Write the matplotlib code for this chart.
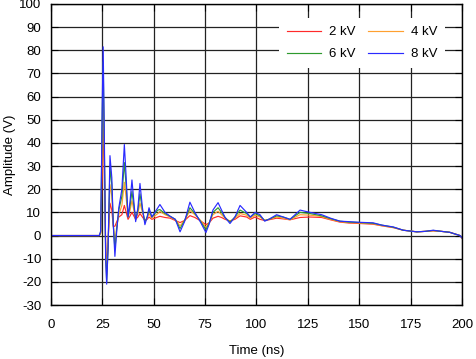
import numpy as np
import matplotlib
matplotlib.use("Agg")
import matplotlib.pyplot as plt

plt.rcParams['font.family'] = ['Liberation Sans', 'DejaVu Sans']
plt.rcParams['axes.unicode_minus'] = False

# time axis (ns) shared by the four waveforms
t = [0, 23.5, 24.2, 25.0, 25.4, 26.0, 26.6, 27.1, 27.8, 28.7, 29.6, 30.3, 31.1, 32.0, 33.0,
     34.5, 35.7, 36.6, 37.5, 38.5, 39.4, 40.3, 41.2, 42.3, 43.3, 44.5, 45.7, 46.8, 47.7,
     49.1, 50.5, 52.0, 53.0, 55.5, 58.0, 60.5, 62.8, 65.0, 67.6, 70.0, 72.5, 75.4, 77.0,
     78.8, 81.3, 83.0, 84.7, 87.1, 89.5, 92.0, 95.2, 97.0, 99.3, 101.7, 104.0, 106.0,
     109.8, 113.0, 116.3, 121.2, 126.0, 131.7, 136.0, 140.6, 145.0, 150.4, 156.7, 161.0,
     166.6, 171.4, 178.0, 182.0, 186.0, 190.0, 194.0, 199.0, 200.0]

# amplitudes (V)
v2 = [0, 0, 1, 30, 48, 25, -3, -15, -2, 14, 11, 4, 4, 6, 8, 9, 13, 10, 7, 8.5,
      10, 8.5, 7, 8, 9.5, 8, 6.5, 7, 8, 7, 7.5, 8, 8.3, 7.8, 7.5, 6.5, 5.6, 6.5, 8.6, 7.8,
      6.5, 4.7, 5.5, 7.5, 8.3, 7.8, 7, 6.3, 7, 8.5, 8, 7, 8, 7, 6.5, 6.8, 7.5, 7.2, 6.8, 7.8,
      8, 7.8, 6.8, 5.8, 5.4, 5.2, 4.9, 4.2, 3.4, 2.3, 1.6, 1.8, 2, 1.8, 1.4, 0, -1.2]
v4 = [0, 0, 1, 45, 65, 30, -5, -17, -3, 22, 17, 5, -3, 4, 9, 13, 23, 16, 8, 11,
      15, 11, 7, 9.5, 14, 10, 6, 7.5, 9.5, 7.5, 8.5, 9.5, 10.4, 9, 8, 6.8, 4.2, 6.5, 10.8, 9,
      6.8, 3.5, 5.5, 9, 10.5, 9, 7.5, 6, 7.5, 9.5, 8.8, 7.5, 8.8, 8, 6.5, 7, 8, 7.5, 6.8, 9,
      8.8, 8.2, 7, 6, 5.6, 5.4, 5.1, 4.3, 3.5, 2.3, 1.6, 1.8, 2.1, 1.8, 1.4, 0, -1]
v6 = [0, 0, 1.5, 55, 75, 35, -8, -20, -5, 29.4, 22, 5, -6, 3, 11, 17, 31.5, 21, 8, 13,
      19, 13, 7, 11, 18, 11, 6, 8, 11, 8, 9.5, 11, 11.2, 9.5, 8.3, 7, 3, 6.5, 12, 9.5,
      6.5, 2.5, 5.5, 10, 12, 10, 7.8, 5.8, 8, 11, 9.5, 8, 9.5, 8.5, 6.5, 7, 8.5, 8, 7, 10,
      9.5, 8.5, 7.3, 6.2, 5.8, 5.6, 5.3, 4.5, 3.6, 2.3, 1.6, 1.8, 2.2, 1.8, 1.4, 0, -1]
v8 = [0, 0, 2, 60, 81.5, 40, -10, -21, -5, 34.5, 25, 5, -9, 2, 12, 20, 39.3, 25, 8, 15,
      24, 15, 6, 12, 22.5, 12, 4.7, 8, 12, 8, 10, 12, 13.4, 10, 8.3, 7, 1.6, 6, 14.4, 10,
      6.2, 1.3, 5, 11, 14.2, 11, 7.8, 5.2, 8, 13, 10, 8, 10, 9, 6.2, 7, 9, 8, 7, 11,
      10, 9, 7.5, 6.2, 6, 5.7, 5.5, 4.5, 3.7, 2.3, 1.6, 1.8, 2.3, 1.8, 1.4, 0, -1]

labels = ['2 kV', '4 kV', '6 kV', '8 kV']
colors = ['#ff2a2a', '#ffa030', '#2e9a2e', '#2a2aff']

fig = plt.figure(figsize=(4.76, 3.59), dpi=100)
ax = fig.add_axes([0.1071, 0.1504, 0.8635, 0.8385])

lines = []
for v, lab, c in zip([v2, v4, v6, v8], labels, colors):
    ln, = ax.plot(t, v, color=c, lw=0.85, label=lab)
    lines.append(ln)

ax.set_xlim(0, 200)
ax.set_ylim(-30, 100)
ax.set_xticks(np.arange(0, 201, 25))
ax.set_yticks(np.arange(-30, 101, 10))
ax.grid(True, color='#222222', lw=0.9)
ax.set_axisbelow(True)
ax.tick_params(direction='in', top=True, right=True, length=5, labelsize=9.5, width=0.8)
ax.tick_params(axis='x', pad=10)
ax.tick_params(axis='y', pad=7)
for s in ax.spines.values():
    s.set_linewidth(1.0)
ax.set_xlabel('Time (ns)', fontsize=9.5, labelpad=10)
ax.set_ylabel('Amplitude (V)', fontsize=9.5, labelpad=2)

# row-wise legend order: 2 kV, 4 kV / 6 kV, 8 kV
order = [0, 2, 1, 3]
leg = ax.legend([lines[i] for i in order], [labels[i] for i in order],
                ncol=2, loc='upper right', bbox_to_anchor=(0.975, 0.975),
                frameon=True, fancybox=False, edgecolor='none', facecolor='white',
                framealpha=1, fontsize=9.5, handlelength=2.6, handletextpad=0.6,
                columnspacing=1.0, labelspacing=0.75, borderpad=0.6)

fig.savefig('out.png', dpi=100)
